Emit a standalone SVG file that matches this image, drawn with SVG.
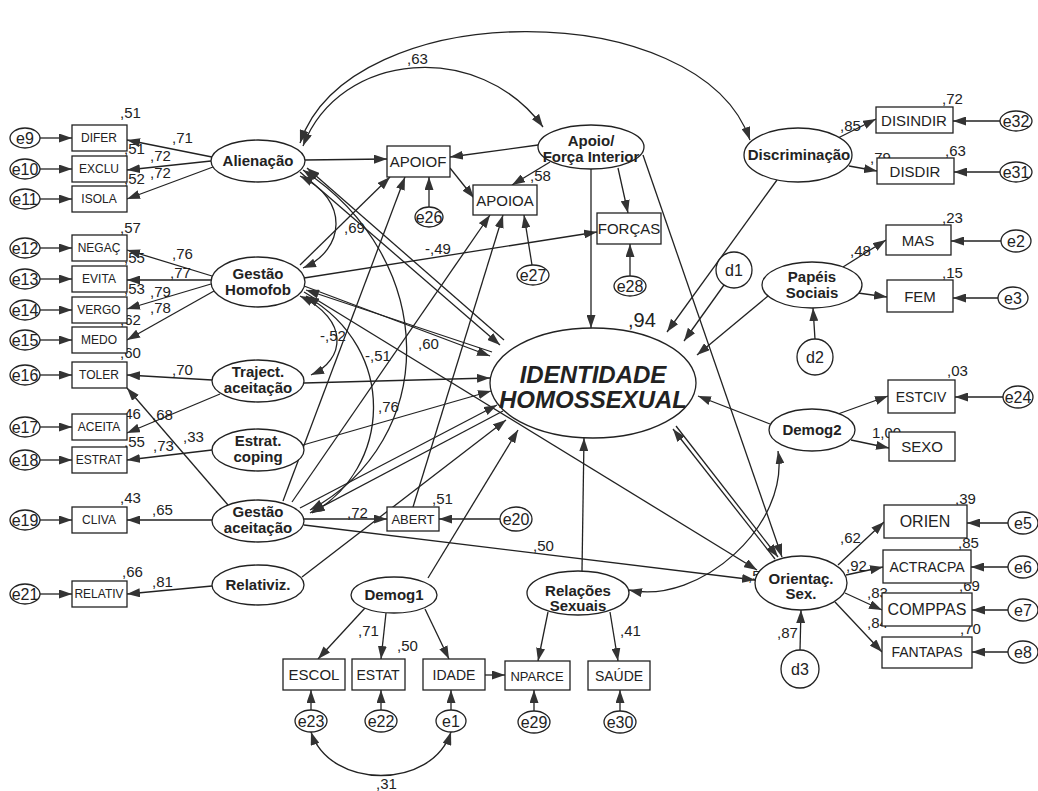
<svg xmlns="http://www.w3.org/2000/svg" width="1038" height="791" viewBox="0 0 1038 791">
<defs>
<marker id="ah" viewBox="0 0 13 9" refX="13" refY="4.5" markerWidth="13" markerHeight="9" markerUnits="userSpaceOnUse" orient="auto-start-reverse"><path d="M0,0 L13,4.5 L0,9 z" fill="#333"/></marker>
<style>
.c{fill:none;stroke:#222;stroke-width:1.3;marker-end:url(#ah)}
.d{fill:none;stroke:#222;stroke-width:1.3;marker-start:url(#ah);marker-end:url(#ah)}
.n rect,.n ellipse,.n circle{fill:#fff;stroke:#222;stroke-width:1.3}
.n text{font-family:"Liberation Sans",Arial,sans-serif;text-anchor:middle;fill:#222}
.s{font-size:12px}
.m{font-size:15px}
.l{font-size:15px;font-weight:bold}
.e{font-size:16px}
.num{font-family:"Liberation Sans",Arial,sans-serif;font-size:15px;fill:#222}
</style>
</defs>
<rect width="1038" height="791" fill="#fff"/>
<g id="labels" class="num">
<text x="120" y="118">,51</text><text x="124" y="154">,51</text><text x="124" y="184">,52</text>
<text x="172" y="143">,71</text><text x="150" y="161">,72</text><text x="150" y="178">,72</text>
<text x="120" y="233">,57</text><text x="124" y="263">,55</text><text x="124" y="294">,53</text><text x="120" y="325">,62</text><text x="120" y="358">,60</text>
<text x="172" y="259">,76</text><text x="170" y="278">,77</text><text x="150" y="297">,79</text><text x="150" y="313">,78</text>
<text x="172" y="375">,70</text><text x="120" y="419">,46</text><text x="152" y="420">,68</text><text x="183" y="442">,33</text>
<text x="124" y="447">,55</text><text x="153" y="451">,73</text>
<text x="120" y="503">,43</text><text x="152" y="515">,65</text><text x="122" y="577">,66</text><text x="152" y="587">,81</text>
<text x="344" y="233">,69</text><text x="425" y="254">-,49</text><text x="320" y="341">-,52</text><text x="365" y="361">-,51</text>
<text x="418" y="349">,60</text><text x="378" y="412">,76</text><text x="530" y="181">,58</text><text x="407" y="64">,63</text>
<text x="628" y="327" style="font-size:20px">,94</text>
<text x="840" y="131">,85</text><text x="870" y="163">,79</text><text x="942" y="104">,72</text><text x="945" y="156">,63</text>
<text x="942" y="223">,23</text><text x="850" y="256">,48</text><text x="942" y="278">,15</text><text x="947" y="376">,03</text><text x="872" y="438">1,00</text>
<text x="955" y="504">,39</text><text x="958" y="548">,85</text><text x="959" y="591">,69</text><text x="960" y="634">,70</text>
<text x="840" y="543">,62</text><text x="846" y="571">,92</text><text x="867" y="598">,83</text><text x="867" y="628">,84</text>
<text x="777" y="638">,87</text><text x="748" y="581">,52</text>
<text x="432" y="504">,51</text><text x="347" y="518">,72</text><text x="533" y="551">,50</text>
<text x="358" y="636">,71</text><text x="397" y="651">,50</text><text x="620" y="636">,41</text><text x="376" y="789">,31</text>
</g>
<g id="connectors">
<path class="c" d="M40,138 L72,138"/><path class="c" d="M40,169 L72,169"/><path class="c" d="M40,199 L72,199"/>
<path class="c" d="M40,248 L72,248"/><path class="c" d="M40,279 L72,279"/><path class="c" d="M40,310 L72,310"/><path class="c" d="M40,340 L72,340"/>
<path class="c" d="M40,375 L72,375"/><path class="c" d="M40,427 L72,427"/><path class="c" d="M40,460 L72,460"/><path class="c" d="M40,520 L72,520"/><path class="c" d="M40,594 L72,594"/>
<path class="c" d="M212,157 L127,140"/><path class="c" d="M211,161 L127,170"/><path class="c" d="M213,167 L127,199"/>
<path class="c" d="M212,276 L127,250"/><path class="c" d="M211,280 L127,280"/><path class="c" d="M211,284 L127,309"/><path class="c" d="M214,291 L127,340"/>
<path class="c" d="M212,380 L127,375"/><path class="c" d="M220,394 L127,433"/><path class="c" d="M212,450 L127,460"/>
<path class="c" d="M212,520 L127,520"/><path class="c" d="M228,505 L127,388"/><path class="c" d="M212,586 L127,594"/>
<path class="c" d="M305,160 L387,159"/><path class="c" d="M538,145 L450,157"/><path class="c" d="M550,162 L512,185"/>
<path class="c" d="M450,168 L474,198"/><path class="c" d="M618,168 L628,213"/>
<path class="c" d="M429,207 L429,177"/><path class="c" d="M532,265 L524,215"/><path class="c" d="M630,276 L630,244"/>
<path class="c" d="M300,265 L390,177"/><path class="c" d="M283,501 L405,177"/><path class="c" d="M292,502 L490,215"/><path class="c" d="M413,507 L503,215"/>
<path class="c" d="M304,278 L597,232"/>
<path class="d" d="M300,143 C350,-5 700,-5 750,140"/>
<path class="d" d="M303,146 C340,50 480,40 543,127"/>
<path class="c" d="M300,172 L500,345"/><path class="c" d="M504,340 L307,168"/>
<path class="c" d="M304,286 L490,356"/><path class="c" d="M492,352 L306,290"/>
<path class="c" d="M304,292 L757,570"/>
<path class="c" d="M304,383 L490,378"/><path class="c" d="M303,445 L491,391"/>
<path class="c" d="M300,508 L497,405"/><path class="c" d="M503,411 L310,513"/>
<path class="c" d="M302,577 L506,420"/><path class="c" d="M428,578 L518,430"/>
<path class="c" d="M591,169 L591,328"/><path class="c" d="M777,180 L667,332"/><path class="c" d="M724,285 L684,341"/>
<path class="c" d="M768,296 L697,355"/><path class="c" d="M770,424 L698,396"/><path class="c" d="M582,571 L584,438"/>
<path class="c" d="M676,426 L778,557"/><path class="c" d="M775,559 L673,429"/>
<path class="c" d="M643,155 L782,557"/><path class="c" d="M304,525 L755,580"/>
<path class="d" d="M629,590 C700,605 790,525 778,451"/>
<path class="d" d="M300,296 C350,320 345,360 311,375"/>
<path class="d" d="M300,176 C350,200 345,250 303,268"/>
<path class="d" d="M303,170 C440,260 440,440 310,510"/>
<path class="d" d="M306,296 C400,350 390,470 312,513"/>
<path class="c" d="M365,608 L318,659"/><path class="c" d="M386,613 L381,659"/><path class="c" d="M425,609 L449,659"/>
<path class="c" d="M485,675 L505,675"/><path class="c" d="M548,612 L538,661"/><path class="c" d="M610,612 L618,661"/>
<path class="c" d="M311,710 L311,690"/><path class="c" d="M381,710 L381,690"/><path class="c" d="M451,710 L451,690"/><path class="c" d="M534,711 L534,690"/><path class="c" d="M620,711 L620,690"/>
<path class="d" d="M311,732 C330,790 432,790 451,732"/>
<path class="c" d="M304,519 L387,519"/><path class="c" d="M500,519 L439,519"/>
<path class="c" d="M838,138 L876,119"/><path class="c" d="M849,166 L877,171"/>
<path class="c" d="M1000,121 L953,121"/><path class="c" d="M1000,172 L954,172"/>
<path class="c" d="M843,267 L886,240"/><path class="c" d="M858,293 L887,297"/>
<path class="c" d="M1001,241 L951,241"/><path class="c" d="M998,298 L953,298"/>
<path class="c" d="M815,339 L813,308"/>
<path class="c" d="M838,414 L888,396"/><path class="c" d="M851,440 L889,448"/><path class="c" d="M1003,397 L955,397"/>
<path class="c" d="M838,565 L884,522"/><path class="c" d="M846,575 L883,567"/><path class="c" d="M845,593 L882,610"/><path class="c" d="M835,602 L882,652"/>
<path class="c" d="M1008,523 L967,523"/><path class="c" d="M1008,567 L971,567"/><path class="c" d="M1008,610 L972,610"/><path class="c" d="M1008,652 L972,652"/>
<path class="c" d="M800,650 L801,610"/>
</g>
<g class="n">
<g id="e9"><ellipse cx="25" cy="138" rx="15" ry="10"/><text x="25" y="144" class="e">e9</text></g>
<g id="e10"><ellipse cx="25" cy="169" rx="15" ry="10"/><text x="25" y="175" class="e">e10</text></g>
<g id="e11"><ellipse cx="25" cy="199" rx="15" ry="10"/><text x="25" y="205" class="e">e11</text></g>
<g id="e12"><ellipse cx="25" cy="248" rx="15" ry="10"/><text x="25" y="254" class="e">e12</text></g>
<g id="e13"><ellipse cx="25" cy="279" rx="15" ry="10"/><text x="25" y="285" class="e">e13</text></g>
<g id="e14"><ellipse cx="25" cy="310" rx="15" ry="10"/><text x="25" y="316" class="e">e14</text></g>
<g id="e15"><ellipse cx="25" cy="340" rx="15" ry="10"/><text x="25" y="346" class="e">e15</text></g>
<g id="e16"><ellipse cx="25" cy="375" rx="15" ry="10"/><text x="25" y="381" class="e">e16</text></g>
<g id="e17"><ellipse cx="25" cy="427" rx="15" ry="10"/><text x="25" y="433" class="e">e17</text></g>
<g id="e18"><ellipse cx="25" cy="460" rx="15" ry="10"/><text x="25" y="466" class="e">e18</text></g>
<g id="e19"><ellipse cx="25" cy="520" rx="15" ry="10"/><text x="25" y="526" class="e">e19</text></g>
<g id="e21"><ellipse cx="25" cy="594" rx="15" ry="10"/><text x="25" y="600" class="e">e21</text></g>
<g id="DIFER"><rect x="72" y="125" width="55" height="26"/><text x="99" y="142" class="s">DIFER</text></g>
<g id="EXCLU"><rect x="72" y="156" width="55" height="26"/><text x="99" y="173" class="s">EXCLU</text></g>
<g id="ISOLA"><rect x="72" y="186" width="55" height="26"/><text x="99" y="203" class="s">ISOLA</text></g>
<g id="NEGAC"><rect x="72" y="235" width="55" height="26"/><text x="99" y="252" class="s">NEGAÇ</text></g>
<g id="EVITA"><rect x="72" y="266" width="55" height="26"/><text x="99" y="283" class="s">EVITA</text></g>
<g id="VERGO"><rect x="72" y="297" width="55" height="26"/><text x="99" y="314" class="s">VERGO</text></g>
<g id="MEDO"><rect x="72" y="327" width="55" height="26"/><text x="99" y="344" class="s">MEDO</text></g>
<g id="TOLER"><rect x="72" y="362" width="55" height="26"/><text x="99" y="379" class="s">TOLER</text></g>
<g id="ACEITA"><rect x="72" y="414" width="55" height="26"/><text x="99" y="431" class="s">ACEITA</text></g>
<g id="ESTRAT"><rect x="72" y="447" width="55" height="26"/><text x="99" y="464" class="s">ESTRAT</text></g>
<g id="CLIVA"><rect x="72" y="507" width="55" height="26"/><text x="99" y="524" class="s">CLIVA</text></g>
<g id="RELATIV"><rect x="72" y="581" width="55" height="26"/><text x="99" y="598" class="s">RELATIV</text></g>
<g id="Alienacao"><ellipse cx="258" cy="161" rx="47" ry="21"/><text x="258" y="166" class="l">Alienação</text></g>
<g id="GestaoHomofob"><ellipse cx="258" cy="282" rx="47" ry="25"/><text x="258" y="279" class="l">Gestão</text><text x="258" y="295" class="l">Homofob</text></g>
<g id="Traject"><ellipse cx="258" cy="381" rx="46" ry="21"/><text x="258" y="377" class="l">Traject.</text><text x="258" y="393" class="l">aceitação</text></g>
<g id="Estrat"><ellipse cx="258" cy="450" rx="46" ry="21"/><text x="258" y="446" class="l">Estrat.</text><text x="258" y="462" class="l">coping</text></g>
<g id="GestaoAceitacao"><ellipse cx="258" cy="521" rx="46" ry="21"/><text x="258" y="517" class="l">Gestão</text><text x="258" y="533" class="l">aceitação</text></g>
<g id="Relativiz"><ellipse cx="258" cy="585" rx="46" ry="20"/><text x="258" y="590" class="l">Relativiz.</text></g>
<g id="APOIOF"><rect x="387" y="146" width="63" height="31"/><text x="418" y="167" class="m">APOIOF</text></g>
<g id="APOIOA"><rect x="473" y="185" width="64" height="30"/><text x="505" y="206" class="m">APOIOA</text></g>
<g id="FORCAS"><rect x="597" y="213" width="64" height="31"/><text x="629" y="234" class="m">FORÇAS</text></g>
<g id="Apoio"><ellipse cx="591" cy="147" rx="53" ry="22"/><text x="591" y="146" class="l">Apoio/</text><text x="591" y="162" class="l">Força Interior</text></g>
<g id="e26"><ellipse cx="429" cy="217" rx="14" ry="10"/><text x="429" y="223" class="e">e26</text></g>
<g id="e27"><ellipse cx="533" cy="275" rx="16" ry="10"/><text x="533" y="281" class="e">e27</text></g>
<g id="e28"><ellipse cx="630" cy="286" rx="16" ry="10"/><text x="630" y="292" class="e">e28</text></g>
<g id="Identidade"><ellipse cx="593" cy="383" rx="103" ry="55"/><text x="593" y="383" style="font-size:24px;font-weight:bold;font-style:italic">IDENTIDADE</text><text x="593" y="408" style="font-size:24px;font-weight:bold;font-style:italic">HOMOSSEXUAL</text></g>
<g id="d1"><circle cx="734" cy="270" r="18"/><text x="734" y="276" class="e">d1</text></g>
<g id="Discriminacao"><ellipse cx="798" cy="155" rx="54" ry="27"/><text x="799" y="160" class="l">Discriminação</text></g>
<g id="DISINDIR"><rect x="876" y="107" width="77" height="26"/><text x="914" y="126" class="m">DISINDIR</text></g>
<g id="DISDIR"><rect x="877" y="158" width="77" height="26"/><text x="915" y="177" class="m">DISDIR</text></g>
<g id="e32"><ellipse cx="1016" cy="121" rx="16" ry="10"/><text x="1016" y="127" class="e">e32</text></g>
<g id="e31"><ellipse cx="1016" cy="172" rx="16" ry="10"/><text x="1016" y="178" class="e">e31</text></g>
<g id="MAS"><rect x="886" y="225" width="65" height="30"/><text x="918" y="246" class="m">MAS</text></g>
<g id="e2"><ellipse cx="1016" cy="241" rx="15" ry="11"/><text x="1016" y="247" class="e">e2</text></g>
<g id="PapeisSociais"><ellipse cx="812" cy="285" rx="50" ry="23"/><text x="812" y="282" class="l">Papéis</text><text x="812" y="298" class="l">Sociais</text></g>
<g id="FEM"><rect x="887" y="280" width="66" height="32"/><text x="920" y="302" class="m">FEM</text></g>
<g id="e3"><ellipse cx="1013" cy="298" rx="15" ry="11"/><text x="1013" y="304" class="e">e3</text></g>
<g id="d2"><circle cx="815" cy="357" r="18"/><text x="815" y="363" class="e">d2</text></g>
<g id="Demog2"><ellipse cx="812" cy="430" rx="43" ry="21"/><text x="812" y="435" class="l">Demog2</text></g>
<g id="ESTCIV"><rect x="888" y="380" width="67" height="33"/><text x="921" y="402" style="font-size:14px">ESTCIV</text></g>
<g id="e24"><ellipse cx="1018" cy="397" rx="15" ry="11"/><text x="1018" y="403" class="e">e24</text></g>
<g id="SEXO"><rect x="889" y="432" width="66" height="29"/><text x="922" y="452" class="m">SEXO</text></g>
<g id="Orientac"><ellipse cx="801" cy="583" rx="46" ry="27"/><text x="801" y="584" class="l">Orientaç.</text><text x="801" y="599" class="l">Sex.</text></g>
<g id="ORIEN"><rect x="884" y="505" width="83" height="33"/><text x="925" y="527" class="e">ORIEN</text></g>
<g id="ACTRACPA"><rect x="883" y="550" width="88" height="33"/><text x="927" y="572" style="font-size:14px">ACTRACPA</text></g>
<g id="COMPPAS"><rect x="882" y="593" width="90" height="33"/><text x="927" y="615" class="e">COMPPAS</text></g>
<g id="FANTAPAS"><rect x="882" y="637" width="90" height="31"/><text x="927" y="657" style="font-size:14px">FANTAPAS</text></g>
<g id="e5"><ellipse cx="1023" cy="523" rx="15" ry="11"/><text x="1023" y="529" class="e">e5</text></g>
<g id="e6"><ellipse cx="1023" cy="567" rx="15" ry="11"/><text x="1023" y="573" class="e">e6</text></g>
<g id="e7"><ellipse cx="1023" cy="610" rx="15" ry="11"/><text x="1023" y="616" class="e">e7</text></g>
<g id="e8"><ellipse cx="1023" cy="652" rx="15" ry="11"/><text x="1023" y="658" class="e">e8</text></g>
<g id="d3"><circle cx="800" cy="669" r="19"/><text x="800" y="675" class="e">d3</text></g>
<g id="ABERT"><rect x="387" y="507" width="52" height="24"/><text x="413" y="524" style="font-size:13px">ABERT</text></g>
<g id="e20"><ellipse cx="516" cy="519" rx="16" ry="12"/><text x="516" y="525" class="e">e20</text></g>
<g id="Demog1"><ellipse cx="394" cy="595" rx="43" ry="18"/><text x="394" y="600" class="l">Demog1</text></g>
<g id="RelacoesSexuais"><ellipse cx="578" cy="593" rx="51" ry="22"/><text x="578" y="596" class="l">Relações</text><text x="578" y="611" class="l">Sexuais</text></g>
<g id="ESCOL"><rect x="283" y="659" width="62" height="31"/><text x="314" y="680" class="m">ESCOL</text></g>
<g id="ESTAT"><rect x="352" y="659" width="53" height="31"/><text x="378" y="680" style="font-size:14px">ESTAT</text></g>
<g id="IDADE"><rect x="423" y="659" width="62" height="31"/><text x="454" y="680" style="font-size:14px">IDADE</text></g>
<g id="NPARCE"><rect x="505" y="661" width="65" height="29"/><text x="537" y="681" style="font-size:13px">NPARCE</text></g>
<g id="SAUDE"><rect x="588" y="661" width="62" height="29"/><text x="619" y="681" style="font-size:14px">SAÚDE</text></g>
<g id="e23"><ellipse cx="311" cy="721" rx="16" ry="11"/><text x="311" y="727" class="e">e23</text></g>
<g id="e22"><ellipse cx="381" cy="721" rx="16" ry="11"/><text x="381" y="727" class="e">e22</text></g>
<g id="e1"><ellipse cx="451" cy="721" rx="15" ry="11"/><text x="451" y="727" class="e">e1</text></g>
<g id="e29"><ellipse cx="534" cy="722" rx="16" ry="11"/><text x="534" y="728" class="e">e29</text></g>
<g id="e30"><ellipse cx="620" cy="722" rx="16" ry="11"/><text x="620" y="728" class="e">e30</text></g>
</g>
</svg>
